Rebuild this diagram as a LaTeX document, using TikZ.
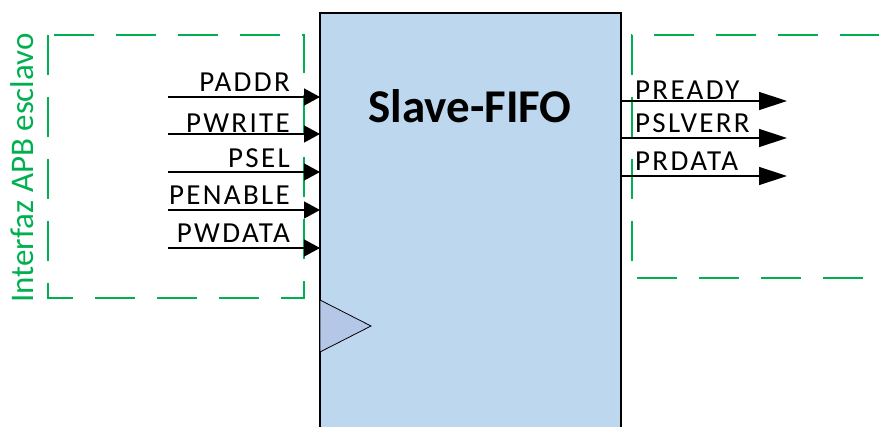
\documentclass[tikz,border=0pt]{standalone}
\usepackage{fontspec}
\setmainfont{Carlito}
\newfontfamily\lblfont[LetterSpace=8]{Carlito}
\usetikzlibrary{arrows.meta}
\definecolor{boxblue}{HTML}{BDD7EE}
\definecolor{clkblue}{HTML}{B4C7E7}
\definecolor{dgreen}{HTML}{00B050}
\tikzset{
  sig/.style={draw=black, line width=1.4pt, -{Triangle[length=16pt,width=17pt]}},
  osig/.style={draw=black, line width=1.4pt, -{Triangle[length=28pt,width=18pt]}},
  grp/.style={draw=dgreen, line width=2pt, dash pattern=on 40pt off 22pt},
  lbl/.style={font=\lblfont\fontsize{29}{29}\selectfont, inner sep=0pt},
}
\begin{document}
\begin{tikzpicture}[x=1pt,y=-1pt]
\useasboundingbox (0,0) rectangle (879,427);
% main block
\fill[boxblue] (320,13) rectangle (621,440);
\draw[line width=1.2pt] (320,440) -- (320,13) -- (621,13) -- (621,440);
\node[font=\bfseries\fontsize{47}{47}\selectfont, anchor=base, inner sep=0pt] (title) at (470,123) {Slave-FIFO};
% clock
\draw[fill=clkblue, line width=0.8pt] (320,300) -- (371,326) -- (320,352) -- cycle;
% left group
\draw[grp] (48,35) rectangle (304,298);
\node[rotate=90, text=dgreen, font=\fontsize{33}{33}\selectfont, anchor=base, inner sep=0pt] (grpl) at (34,168) {Interfaz APB esclavo};
% right group
\draw[grp] (880,35) -- (632,35) -- (632,278) -- (880,278);
% inputs
\foreach \n/\y/\b/\t in {a/97/92/PADDR, b/134/133/PWRITE, c/172/168/PSEL, d/210/205/PENABLE, e/248/243/PWDATA}{
  \coordinate (s\n) at (168,\y);
  \coordinate (t\n) at (320,\y);
  \draw[sig] (s\n) -- (t\n);
  \node[lbl, anchor=base east] (l\n) at (290,\b) {\t};
}
% outputs
\foreach \n/\y/\b/\t in {a/101/100/PREADY, b/138/133/PSLVERR, c/176/171/PRDATA}{
  \coordinate (os\n) at (621,\y);
  \coordinate (ot\n) at (787,\y);
  \draw[osig] (os\n) -- (ot\n);
  \node[lbl, anchor=base west] (ol\n) at (635,\b) {\t};
}
\end{tikzpicture}
\end{document}
